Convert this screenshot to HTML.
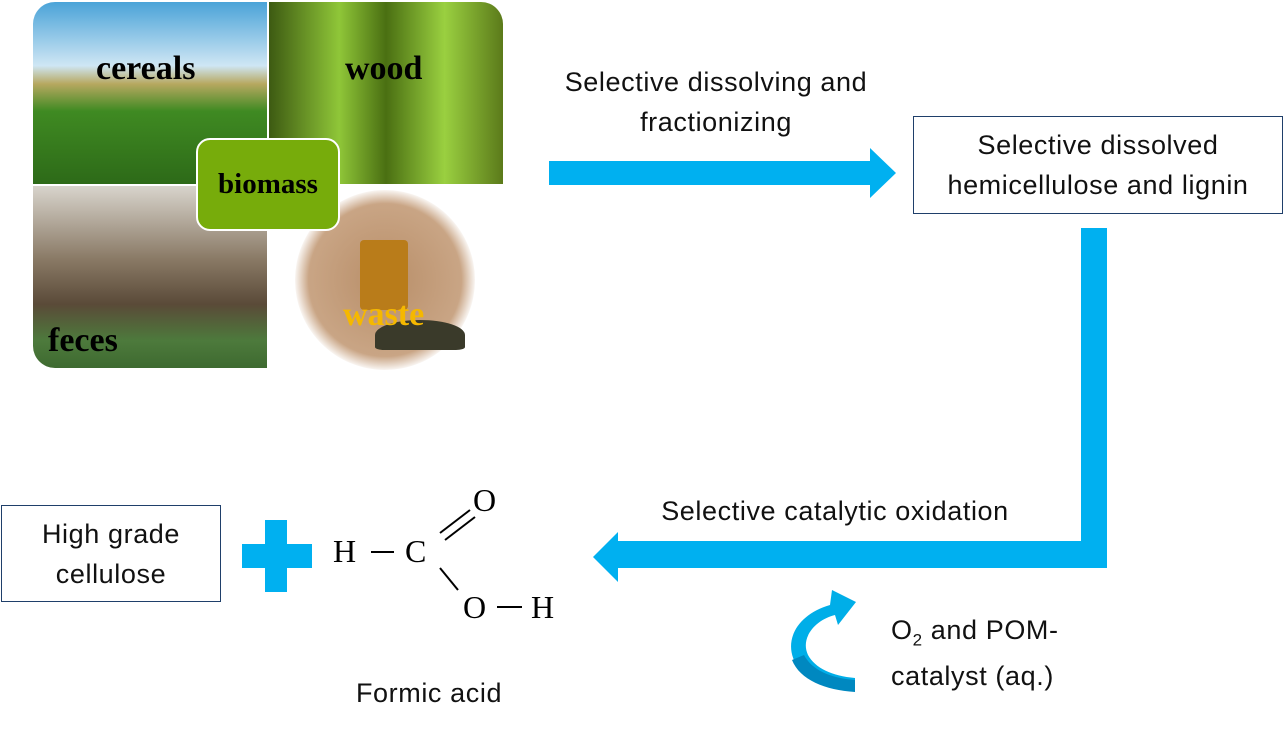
<!DOCTYPE html>
<html><head><style>
body{margin:0;width:1283px;height:733px;background:#fff;position:relative;overflow:hidden;font-family:"Liberation Sans",sans-serif;}
.t{position:absolute;font-size:27px;letter-spacing:0.6px;color:#111;text-align:center;line-height:40px;white-space:nowrap}
.box{position:absolute;border:1.5px solid #1f3f6a;box-sizing:border-box;display:flex;align-items:center;justify-content:center;text-align:center;font-size:27px;letter-spacing:0.6px;line-height:40px;color:#111}
.lbl{position:absolute;font-family:"Liberation Serif",serif;font-weight:bold;font-size:34px;color:#000;line-height:34px}
</style></head><body>
<div style="position:absolute;left:33px;top:2px;width:470px;height:366px;border-radius:22px;overflow:hidden">
 <div style="position:absolute;left:0;top:0;width:234px;height:182px;background:linear-gradient(#4aa3d8 0%,#cfe6f4 35%,#b7a860 45%,#3f8a22 60%,#2d6a18 100%)"></div>
 <div style="position:absolute;left:236px;top:0;width:234px;height:182px;background:linear-gradient(90deg,#3d5a12,#8fc638 30%,#4a6f12 50%,#9ad040 75%,#5b7a1a);"></div>
 <div style="position:absolute;left:0;top:184px;width:234px;height:182px;background:linear-gradient(#d8d4cc 0%,#8a7a66 40%,#5a4a38 65%,#4d7a3c 85%,#3e6a30 100%)"></div>
 <div style="position:absolute;left:236px;top:184px;width:234px;height:182px;background:#fff"></div>
</div>
<div style="position:absolute;left:295px;top:190px;width:180px;height:180px;border-radius:50%;background:radial-gradient(#b88e68 0%,#c9a585 60%,#fff 72%)"></div>
<div style="position:absolute;left:360px;top:240px;width:48px;height:70px;background:#b97c1a;border-radius:4px"></div>
<div style="position:absolute;left:375px;top:320px;width:90px;height:30px;background:#3a3a2a;border-radius:50% 50% 10% 10%"></div>
<div class="lbl" style="left:96px;top:52px">cereals</div>
<div class="lbl" style="left:345px;top:52px">wood</div>
<div class="lbl" style="left:48px;top:324px">feces</div>
<div class="lbl" style="left:343px;top:298px;color:#f5b800">waste</div>
<div style="position:absolute;left:196px;top:138px;width:144px;height:93px;background:#77ac0b;border:2px solid #fff;border-radius:14px;box-sizing:border-box;display:flex;align-items:center;justify-content:center;font-family:'Liberation Serif',serif;font-weight:bold;font-size:29px">biomass</div>

<div class="t" style="left:516px;top:62px;width:400px">Selective dissolving and<br>fractionizing</div>
<svg width="1283" height="733" style="position:absolute;left:0;top:0">
 <polygon points="549,161 870,161 870,148 896,173 870,198 870,185 549,185" fill="#00b0f0"/>
 <polygon points="1081,228 1107,228 1107,568 618,568 618,582 593,557 618,532 618,541 1081,541" fill="#00b0f0"/>
 <rect x="265" y="520" width="22" height="72" fill="#00b0f0"/>
 <rect x="242" y="544" width="70" height="24" fill="#00b0f0"/>
 <path d="M830,605 C795,615 780,645 800,670 C810,682 830,688 855,690 L855,678 C832,676 815,668 808,655 C800,638 815,620 835,615 L838,625 L856,602 L832,590 Z" fill="#00aee8"/>
 <path d="M792,660 C800,680 825,690 855,692 L855,680 C830,678 812,670 804,655 Z" fill="#0088c0"/>
 <g stroke="#000" stroke-width="2">
  <line x1="371" y1="552" x2="394" y2="552"/>
  <line x1="440" y1="533" x2="470" y2="510"/>
  <line x1="445" y1="540" x2="475" y2="517"/>
  <line x1="440" y1="568" x2="458" y2="590"/>
  <line x1="497" y1="607" x2="522" y2="607"/>
 </g>
 <g font-family="Liberation Serif,serif" font-size="32" fill="#000">
  <text x="333" y="562">H</text><text x="405" y="562">C</text>
  <text x="473" y="511">O</text><text x="463" y="618">O</text><text x="531" y="618">H</text>
 </g>
</svg>
<div class="box" style="left:913px;top:116px;width:370px;height:98px">Selective dissolved<br>hemicellulose and lignin</div>
<div class="box" style="left:1px;top:505px;width:220px;height:97px">High grade<br>cellulose</div>
<div class="t" style="left:635px;top:491px;width:400px">Selective catalytic oxidation</div>
<div class="t" style="left:891px;top:612px;width:220px;text-align:left;line-height:36px">O<sub style="font-size:17px">2</sub> and POM-<br>catalyst (aq.)</div>
<div class="t" style="left:329px;top:673px;width:200px">Formic acid</div>
</body></html>
